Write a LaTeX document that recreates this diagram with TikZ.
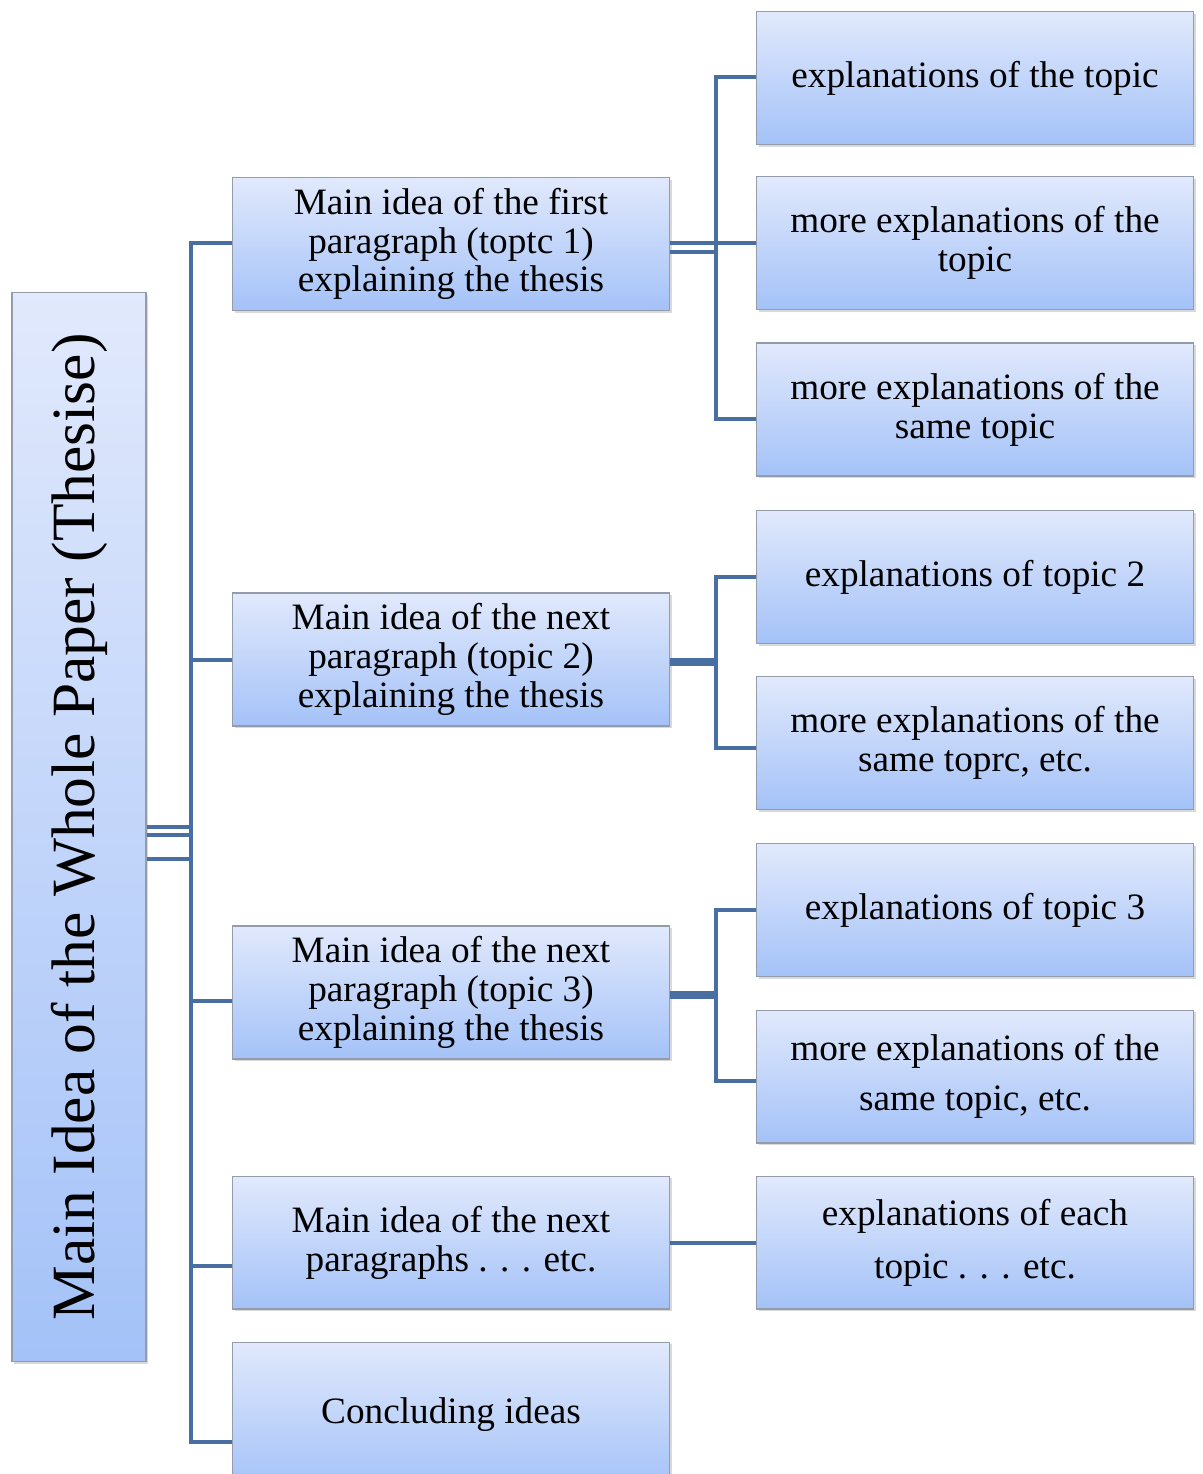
\documentclass[tikz,border=0pt]{standalone}
\usepackage{fontspec}
\setmainfont{Liberation Serif}
\usetikzlibrary{shadows}
\definecolor{boxtop}{RGB}{225,233,252}
\definecolor{boxbot}{RGB}{164,194,248}
\definecolor{boxline}{RGB}{148,156,170}
\definecolor{linkblue}{RGB}{72,110,162}
\begin{document}
\begin{tikzpicture}[x=0.02cm,y=-0.02cm,
    box/.style={draw=boxline,line width=0.6pt,top color=boxtop,bottom color=boxbot,
      minimum width=8.76cm,minimum height=2.66cm,inner sep=2pt,align=center,
      font=\fontsize{21.2}{22.1}\selectfont,
      drop shadow={shadow xshift=1.4pt,shadow yshift=-1.4pt,opacity=0.3}},
    link/.style={draw=linkblue,line width=2.8pt}]
    \useasboundingbox (0,0) rectangle (1203,1474);

    % main idea, text turned on its side
    \node[box,minimum width=2.68cm,minimum height=21.4cm] (main) at (79,827)
        {\rotatebox{90}{\fontsize{35}{40}\selectfont Main Idea of the Whole Paper (Thesise)}};

    % topics
    \node[box] (p1) at (451,244) {Main idea of the first\\paragraph (toptc 1)\\explaining the thesis};
    \node[box] (p2) at (451,659.5) {Main idea of the next\\paragraph (topic 2)\\explaining the thesis};
    \node[box] (p3) at (451,992.5) {Main idea of the next\\paragraph (topic 3)\\explaining the thesis};
    \node[box] (p4) at (451,1242.5) {Main idea of the next\\paragraphs . . . etc.};
    \node[box,minimum height=2.92cm] (p5) at (451,1415) {Concluding ideas};

    % explanations
    \node[box] (e11) at (975,78) {explanations of the topic};
    \node[box] (e12) at (975,243) {more explanations of the\\topic};
    \node[box] (e13) at (975,409.5) {more explanations of the\\same topic};
    \node[box] (e21) at (975,577) {explanations of topic 2};
    \node[box] (e22) at (975,743) {more explanations of the\\same toprc, etc.};
    \node[box] (e31) at (975,910) {explanations of topic 3};
    \node[box] (e32) at (975,1076.5) {more explanations of the\\[6.3pt]same topic, etc.};
    \node[box] (e41) at (975,1242.5) {explanations of each\\[8pt]topic\ . . . etc.};

    % trunk from the main idea
    \draw[link] (main.east |- 0,827) -- (191,827);
    \draw[link] (main.east |- 0,835) -- (191,835);
    \draw[link] (main.east |- 0,859) -- (191,859);
    \draw[link] (p1.west |- 0,243) -| (191,1442) -- (p5.west |- 0,1442);
    \draw[link] (191,660) -- (p2.west |- 0,660);
    \draw[link] (191,1001) -- (p3.west |- 0,1001);
    \draw[link] (191,1266) -- (p4.west |- 0,1266);

    % first topic
    \draw[link] (p1.east |- 0,243) -- (716,243);
    \draw[link] (p1.east |- 0,252) -- (716,252);
    \draw[link] (e11.west |- 0,77) -| (716,419) -- (e13.west |- 0,419);
    \draw[link] (716,243) -- (e12.west |- 0,243);

    % second topic
    \draw[link,line width=5pt] (p2.east |- 0,662) -- (716,662);
    \draw[link] (e21.west |- 0,577) -| (716,748) -- (e22.west |- 0,748);

    % third topic
    \draw[link,line width=5pt] (p3.east |- 0,995) -- (716,995);
    \draw[link] (e31.west |- 0,910) -| (716,1081) -- (e32.west |- 0,1081);

    % further paragraphs
    \draw[link] (p4.east |- 0,1243) -- (e41.west |- 0,1243);
\end{tikzpicture}
\end{document}
